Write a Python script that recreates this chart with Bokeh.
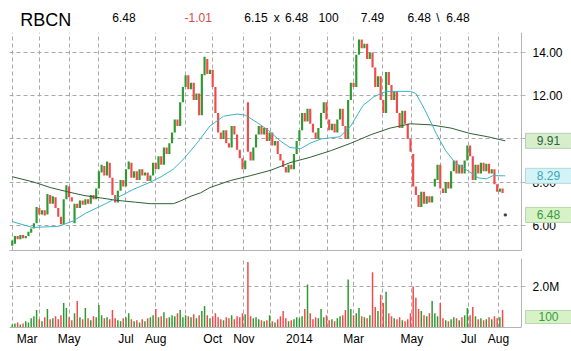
from bokeh.plotting import figure
from bokeh.layouts import column
from bokeh.models import FixedTicker, Range1d, PrintfTickFormatter, ColumnDataSource, Grid
from bokeh.core.properties import value
from bokeh.embed import file_html
from bokeh.resources import INLINE

# ---------------- data ----------------
symbol = "RBCN"
quote_last = "6.48"
quote_change = "-1.01"
quote_bid = "6.15"
quote_ask = "6.48"
quote_size = "100"
quote_prev = "7.49"
quote_lo = "6.48"
quote_hi = "6.48"

# one candle per two trading days, trading-day 0 = 1 Mar 2013
opens = [5.05, 5.15, 5.50, 5.35, 5.55, 5.40, 5.50, 5.65, 5.85, 6.10,
         6.80, 6.50, 6.70, 6.50, 7.40, 7.00, 7.30, 6.80, 6.40, 6.05,
         7.20, 7.80, 7.30, 6.10, 7.00, 6.80, 7.15, 6.95, 7.20, 7.00,
         7.40, 7.20, 7.70, 8.45, 8.75, 8.30, 8.90, 8.20, 7.40, 7.05,
         7.60, 8.10, 7.80, 8.60, 8.90, 8.20, 8.50, 8.10, 8.60, 8.30,
         8.45, 8.05, 8.30, 8.90, 8.60, 9.20, 8.80, 9.60, 9.30, 9.80,
         10.30, 10.90, 10.60, 11.70, 12.40, 12.95, 12.30, 12.60, 11.80, 12.10,
         11.10, 12.95, 13.70, 13.00, 13.20, 12.40, 11.20, 10.30, 10.00, 10.40,
         9.80, 9.60, 10.60, 10.20, 9.50, 9.10, 8.60, 11.70, 9.40, 9.00,
         9.60, 10.20, 10.60, 10.20, 10.50, 9.90, 10.30, 9.70, 9.90, 9.30,
         9.00, 8.70, 8.45, 8.80, 8.60, 9.30, 9.90, 10.40, 11.20, 10.80,
         11.40, 10.70, 10.30, 10.00, 10.50, 11.20, 11.70, 10.90, 10.40, 10.70,
         10.30, 10.90, 11.40, 10.60, 10.00, 11.80, 12.60, 12.40, 13.90, 14.60,
         14.20, 14.40, 13.70, 14.00, 13.30, 12.40, 12.90, 11.80, 11.20, 13.10,
         12.50, 11.80, 12.20, 11.20, 10.50, 11.30, 10.70, 10.00, 9.30, 7.80,
         7.40, 6.85, 7.55, 7.00, 7.35, 7.05, 7.80, 8.10, 8.80, 7.70,
         7.50, 8.00, 7.70, 8.50, 9.00, 8.40, 8.80, 8.40, 9.00, 9.70,
         9.20, 8.10, 8.80, 8.40, 8.90, 8.50, 8.85, 8.40, 8.60, 7.90,
         7.55, 7.70, 6.48]
closes = [5.30, 5.50, 5.35, 5.55, 5.40, 5.50, 5.70, 5.85, 6.10, 6.85,
          6.50, 6.70, 6.45, 7.45, 7.00, 7.35, 6.80, 6.40, 6.05, 7.20,
          7.85, 7.30, 7.10, 7.00, 6.80, 7.15, 6.95, 7.20, 7.00, 7.40,
          7.20, 7.70, 8.50, 8.80, 8.30, 8.95, 8.20, 7.40, 7.05, 7.60,
          8.10, 7.80, 8.60, 8.95, 8.20, 8.50, 8.10, 8.60, 8.30, 8.45,
          8.05, 8.30, 8.90, 8.60, 9.20, 8.80, 9.60, 9.30, 9.80, 10.30,
          10.90, 10.60, 11.70, 12.40, 12.95, 12.30, 12.60, 11.80, 12.10, 11.10,
          13.00, 13.80, 13.00, 13.20, 12.40, 11.20, 10.30, 10.00, 10.40, 9.80,
          9.60, 10.60, 10.20, 9.50, 9.10, 8.60, 9.00, 9.40, 9.00, 9.60,
          10.20, 10.60, 10.20, 10.50, 9.90, 10.30, 9.70, 9.90, 9.30, 9.00,
          8.70, 8.45, 8.80, 8.60, 9.30, 9.90, 10.40, 11.20, 10.80, 11.40,
          10.70, 10.30, 10.00, 10.50, 11.20, 11.70, 10.90, 10.40, 10.70, 10.30,
          10.90, 11.40, 10.60, 10.00, 11.80, 12.60, 12.40, 13.90, 14.60, 14.20,
          14.40, 13.70, 14.00, 13.30, 12.40, 12.90, 11.80, 11.20, 13.10, 12.50,
          11.80, 12.20, 11.20, 10.50, 11.30, 10.70, 10.00, 9.40, 7.80, 7.40,
          6.85, 7.55, 7.00, 7.35, 7.05, 7.35, 8.15, 8.80, 7.70, 7.50,
          8.00, 7.70, 8.50, 9.00, 8.40, 8.80, 8.40, 9.00, 9.70, 9.20,
          8.10, 8.80, 8.40, 8.90, 8.50, 8.85, 8.40, 8.60, 7.90, 7.55,
          7.70, 7.49, 6.48]
volumes_m = [0.15, 0.2, 0.25, 0.15, 0.2, 0.3, 0.25, 0.45, 0.55, 0.85,
             0.4, 0.3, 0.5, 0.9, 0.4, 0.45, 0.55, 0.4, 0.6, 1.2,
             0.95, 0.5, 0.35, 0.7, 1.3, 0.5, 0.4, 0.95, 0.45, 0.35,
             0.55, 0.5, 1.1, 0.6, 0.45, 0.5, 0.4, 0.85, 0.45, 0.35,
             0.3, 0.45, 0.5, 0.7, 0.4, 0.3, 0.35, 0.25, 0.4, 0.3,
             0.45, 0.5, 0.6, 0.9, 0.5, 0.55, 0.75, 0.45, 0.5, 0.6,
             0.55, 0.7, 0.85, 0.5, 0.6, 0.55, 0.5, 0.65, 0.45, 0.6,
             0.8, 1.05, 0.6, 0.45, 0.55, 0.7, 0.5, 0.4, 0.35, 0.5,
             0.45, 0.6, 0.4, 0.55, 0.5, 0.7, 0.65, 3.2, 0.55, 0.45,
             0.5, 0.4, 0.35, 0.3, 0.35, 0.6, 0.3, 0.25, 0.4, 0.55,
             0.8, 0.45, 0.3, 0.35, 0.4, 0.5, 0.45, 0.55, 0.9, 2.1,
             0.7, 0.4, 0.5, 0.45, 0.9, 0.5, 0.6, 0.35, 0.4, 0.3,
             0.45, 0.55, 0.6, 0.85, 2.35, 0.9, 0.6, 0.7, 0.95, 0.55,
             0.5, 0.45, 0.6, 2.7, 1.0, 0.8, 1.6, 1.2, 1.75, 0.7,
             0.55, 0.45, 0.4, 0.5, 0.35, 0.3, 0.4, 0.7, 2.0, 1.45,
             0.9, 0.8, 0.6, 0.55, 0.7, 1.3, 0.7, 0.55, 1.2, 0.45,
             0.35, 0.3, 0.4, 0.5, 0.45, 0.35, 0.5, 0.6, 0.95, 0.6,
             1.0, 0.55, 0.4, 0.45, 0.35, 0.4, 0.5, 0.4, 0.55, 0.45,
             0.5, 0.85, 0.0001]
bar_day = list(range(0, 2 * len(opens), 2))

# moving averages (knots)
ma50_day = [0, 15, 34, 45, 54, 69, 89, 102, 110, 119, 127, 137, 146, 156, 166, 172, 181, 189,
            198, 205, 213, 220, 228, 235, 242, 250, 259, 267, 276, 294, 298, 305, 313, 320,
            327, 337, 344, 350, 355, 364]
ma50_val = [6.17, 5.90, 5.95, 6.20, 6.55, 7.00, 7.65, 8.00, 8.25, 8.60, 9.10, 9.85, 10.60, 11.05,
            11.15, 11.10, 10.75, 10.40, 9.90, 9.60, 9.55, 9.80, 10.00, 10.05, 10.10, 10.60, 11.55,
            11.95, 12.20, 12.20, 12.10, 11.30, 10.25, 9.45, 8.90, 8.50, 8.20, 8.15, 8.30, 8.29]
ma200_day = [0, 16, 28, 41, 53, 65, 78, 91, 102, 119, 124, 132, 139, 146, 161, 176, 191, 205,
             220, 235, 250, 265, 279, 294, 309, 324, 338, 351, 364]
ma200_val = [8.25, 8.00, 7.75, 7.55, 7.38, 7.27, 7.15, 7.07, 7.00, 7.00, 7.12, 7.35, 7.50, 7.75,
             8.07, 8.30, 8.55, 8.90, 9.15, 9.45, 9.80, 10.20, 10.50, 10.70, 10.65, 10.50, 10.25,
             10.10, 9.91]

month_start_day = [0, 20, 42, 64, 84, 106, 128, 148, 171, 191, 212, 233, 252, 273, 295, 316, 337, 359]
label_day = [11, 42, 84, 106, 148, 171, 212, 252, 295, 337, 359]
label_text = ["Mar", "May", "Jul", "Aug", "Oct", "Nov", "2014", "Mar", "May", "Jul", "Aug"]
price_ticks = [6, 8, 10, 12, 14]
volume_ticks = [2]
volume_tick_text = ["2.0M"]

last_price = 6.48
ma50_last = 8.29
ma200_last = 9.91
last_volume = 0.0001
last_volume_text = "100"

# ---------------- layout constants ----------------
W = 571
FL = 9                      # frame left px (frame runs to the right edge)
AXIS_PX = 521               # px of the price / volume scale line
PX_PER_DAY = 1.3546
PT, PB = 32, 250            # price frame top/bottom px
VT, VB = 258, 327           # volume frame top/bottom px
XR0 = -2
XR1 = XR0 + (W - FL) / PX_PER_DAY
AXIS_DAY = XR0 + (AXIS_PX - FL) / PX_PER_DAY
BOX_DAY = XR0 + (548 - FL) / PX_PER_DAY
BOX_W = 46 / PX_PER_DAY
PY = (4.833, 14.926)
VY = (0, 3.37)
FONT = "Liberation Sans"
GREEN = "#2f9a2f"
RED = "#f24a4a"
GRID = "#a8a8a8"
AXIS = "#b4b4b4"
HAS_CROSS = "cross_bounds" in Grid.properties()

x_range = Range1d(XR0, XR1)
up = [c >= o for o, c in zip(opens, closes)]
colors = [GREEN if u else RED for u in up]
src = ColumnDataSource(dict(
    day=bar_day,
    top=[max(o, c) for o, c in zip(opens, closes)],
    bottom=[min(o, c) for o, c in zip(opens, closes)],
    vol=volumes_m,
    color=colors,
))


def style(fig, y0, y1):
    fig.outline_line_color = None
    fig.background_fill_color = "white"
    fig.border_fill_color = "white"
    fig.xgrid.ticker = FixedTicker(ticks=month_start_day)
    for g in (fig.xgrid, fig.ygrid):
        g.grid_line_color = GRID
        g.grid_line_dash = "4 3"
        g.grid_line_width = 1
    if HAS_CROSS:
        fig.ygrid.cross_bounds = (XR0, AXIS_DAY)
    else:
        fig.quad(left=AXIS_DAY, right=XR1, bottom=y0, top=y1, fill_color="white",
                 line_color=None, level="underlay")
    fig.xaxis.bounds = (XR0, AXIS_DAY)
    fig.yaxis.fixed_location = AXIS_DAY
    for ax in (fig.xaxis[0], fig.yaxis[0]):
        ax.axis_line_color = AXIS
        ax.major_tick_line_color = AXIS
        ax.minor_tick_line_color = None
        ax.major_tick_in = 0
        ax.major_label_text_font = FONT
        ax.major_label_text_font_size = "12px"
        ax.major_label_text_color = "black"
    fig.yaxis.major_tick_out = 4
    fig.yaxis.major_label_standoff = 7


def value_box(fig, yv, text, fill, color, border, h):
    fig.rect(x=[BOX_DAY], y=[yv], width=BOX_W, height=h, height_units="screen",
             fill_color=fill, line_color=border, level="annotation")
    fig.text(x=[BOX_DAY], y=[yv], text=[text], text_font=value(FONT),
             text_font_size="12px", text_color=color, text_align="center",
             text_baseline="middle", level="annotation")


# ---------------- header (quote line) ----------------
p0 = figure(width=W, height=PT, x_range=Range1d(0, W), y_range=Range1d(PT, 0),
            x_axis_location=None, y_axis_location=None, toolbar_location=None,
            output_backend="svg", min_border=0)
p0.outline_line_color = None
p0.xgrid.visible = False
p0.ygrid.visible = False
header_text = [symbol, quote_last, quote_change, quote_bid, "x", quote_ask, quote_size,
               quote_prev, quote_lo, "\\", quote_hi]
header_x = [11, 104.5, 177.8, 238.6, 268.5, 279.8, 314, 357, 404.4, 433.5, 443.7]
header_y = [19.3] + [17.3] * 10
header_size = ["18px"] + ["12px"] * 10
header_color = ["black", "black", "#d84848"] + ["black"] * 8
p0.text(x=header_x, y=header_y, text=header_text, text_font=value(FONT),
        text_font_size=header_size, text_color=header_color, text_align="left",
        text_baseline="alphabetic")

# ---------------- price figure ----------------
p1 = figure(width=W, height=PB - PT + 8, x_range=x_range, y_range=Range1d(*PY),
            y_axis_location="right", toolbar_location=None, output_backend="svg",
            min_border_left=FL, min_border_right=0, min_border_top=0,
            min_border_bottom=8)
style(p1, *PY)
p1.yaxis.ticker = FixedTicker(ticks=price_ticks)
p1.ygrid.ticker = FixedTicker(ticks=price_ticks)
p1.yaxis.formatter = PrintfTickFormatter(format="%.2f")
p1.xaxis.ticker = FixedTicker(ticks=[])
p1.xaxis.major_tick_out = 0
p1.xaxis.major_label_standoff = 0

p1.vbar(x="day", width=1.6, top="top", bottom="bottom", source=src,
        fill_color="color", line_color=None)
doji = [i for i, (o, c) in enumerate(zip(opens, closes)) if o == c]
p1.scatter([bar_day[i] for i in doji], [closes[i] for i in doji], marker="square",
           size=2, color="#404040")
p1.line(ma200_day, ma200_val, line_color="#2f5f35", line_width=1)
p1.line(ma50_day, ma50_val, line_color="#3ab4c4", line_width=1)

value_box(p1, ma200_last, f"{ma200_last:.2f}", "#d6eecb", "#2f5f35", "#b9cdb5", 15)
value_box(p1, ma50_last, f"{ma50_last:.2f}", "#d2f3f7", "#3aa8ba", "#b6d6da", 15)
value_box(p1, last_price, f"{last_price:.2f}", "#d6f2c6", "#3a9a3a", "#b9d6b0", 15)

# ---------------- volume figure ----------------
p2 = figure(width=W, height=351 - VT, x_range=x_range, y_range=Range1d(*VY),
            y_axis_location="right", toolbar_location=None, output_backend="svg",
            min_border_left=FL, min_border_right=0, min_border_top=0,
            min_border_bottom=351 - VB)
style(p2, *VY)
p2.yaxis.ticker = FixedTicker(ticks=volume_ticks)
p2.ygrid.ticker = FixedTicker(ticks=volume_ticks)
p2.yaxis.major_label_overrides = {t: s for t, s in zip(volume_ticks, volume_tick_text)}
p2.xaxis.ticker = FixedTicker(ticks=label_day)
p2.xaxis.major_label_overrides = {d: s for d, s in zip(label_day, label_text)}
p2.xaxis.major_tick_out = 0
p2.xaxis.major_label_standoff = 4

p2.vbar(x="day", width=1.1, top="vol", bottom=0, source=src,
        fill_color="color", line_color=None)
# the volume tag sits just above the floor so that it stays inside the panel
value_box(p2, last_volume + (VY[1] - VY[0]) * (VB - 316.5) / (VB - VT), last_volume_text,
          "#d6f2c6", "#3a9a3a", "#b9d6b0", 13)

layout = column(p0, p1, p2, spacing=0)
open("out.html", "w").write(file_html(layout, INLINE))
